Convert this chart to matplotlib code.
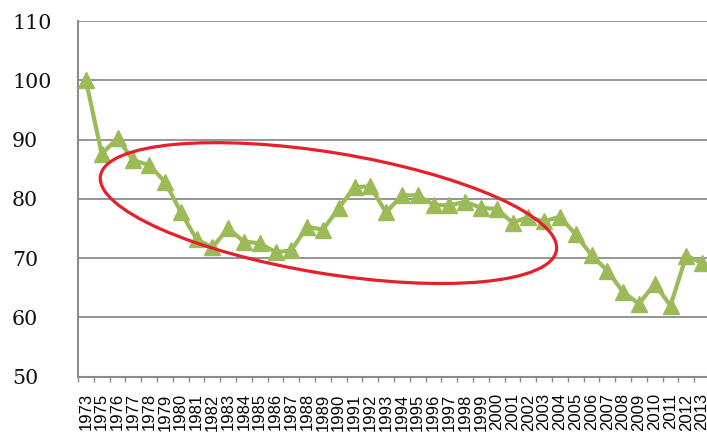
import matplotlib
matplotlib.use("Agg")
import matplotlib.pyplot as plt
import matplotlib.transforms as mtransforms
from matplotlib.patches import Ellipse
import numpy as np

# Years shown on the category axis (1974 is absent from the series)
years = [1973] + list(range(1975, 2014))

# Index values per year
values = [
    100.0, 87.6, 90.2, 86.5, 85.7, 82.9, 77.8, 73.2, 71.8, 75.0,
    72.8, 72.5, 71.0, 71.3, 75.3, 74.8, 78.4, 82.0, 82.1, 77.7,
    80.6, 80.6, 79.0, 78.9, 79.5, 78.5, 78.3, 76.0, 76.9, 76.2,
    77.0, 74.0, 70.5, 67.9, 64.3, 62.3, 65.6, 62.0, 70.4, 69.2,
]

y_ticks = [50, 60, 70, 80, 90, 100, 110]

W, H = 707, 437
fig = plt.figure(figsize=(W / 100, H / 100), dpi=100)
ax = fig.add_axes([78 / W, (H - 376.7) / H, (710 - 78) / W, (376.7 - 21) / H])

x = np.arange(len(years))
grid_col = "#8c8c8c"
green = "#9bbb59"

ax.plot(x, values, color=green, lw=3.0, marker="^", markersize=12,
        markerfacecolor=green, markeredgecolor=green, zorder=3,
        solid_joinstyle="miter")

ax.set_xlim(-0.5, len(years) - 0.5)
ax.set_ylim(50, 110)

# y axis: horizontal gridlines, left-aligned serif labels, no tick marks
ax.set_yticks(y_ticks)
ax.set_yticklabels([str(v) for v in y_ticks], family="DejaVu Serif",
                   fontsize=14.8, color="#111111")
ax.tick_params(axis="y", length=0, pad=47.5)
for lbl in ax.get_yticklabels():
    lbl.set_horizontalalignment("left")
ax.yaxis.grid(True, color=grid_col, lw=1.3)
ax.set_axisbelow(True)

# x axis: category labels at centres, tick marks at category boundaries
ax.set_xticks(x)
ax.set_xticklabels([str(y) for y in years], rotation=90,
                   family="Liberation Sans", fontsize=12, color="black")
ax.set_xticks(np.arange(-0.5, len(years)), minor=True)
ax.tick_params(axis="x", which="major", length=0, pad=12)
ax.tick_params(axis="x", which="minor", length=3.8, width=1.0, color=grid_col)

for side in ("top", "right"):
    ax.spines[side].set_visible(False)
for side in ("left", "bottom"):
    ax.spines[side].set_color(grid_col)
    ax.spines[side].set_linewidth(1.5)

# Red ellipse highlighting the mid-period plateau
trans = fig.dpi_scale_trans + mtransforms.ScaledTranslation(15.35, 77.6, ax.transData)
ell = Ellipse((0, 0), width=4.62, height=1.21, angle=-9.3, fill=False,
              edgecolor="#e5202a", lw=2.3, transform=trans, zorder=4,
              clip_on=False)
ax.add_patch(ell)

fig.savefig("out.png", dpi=100)
